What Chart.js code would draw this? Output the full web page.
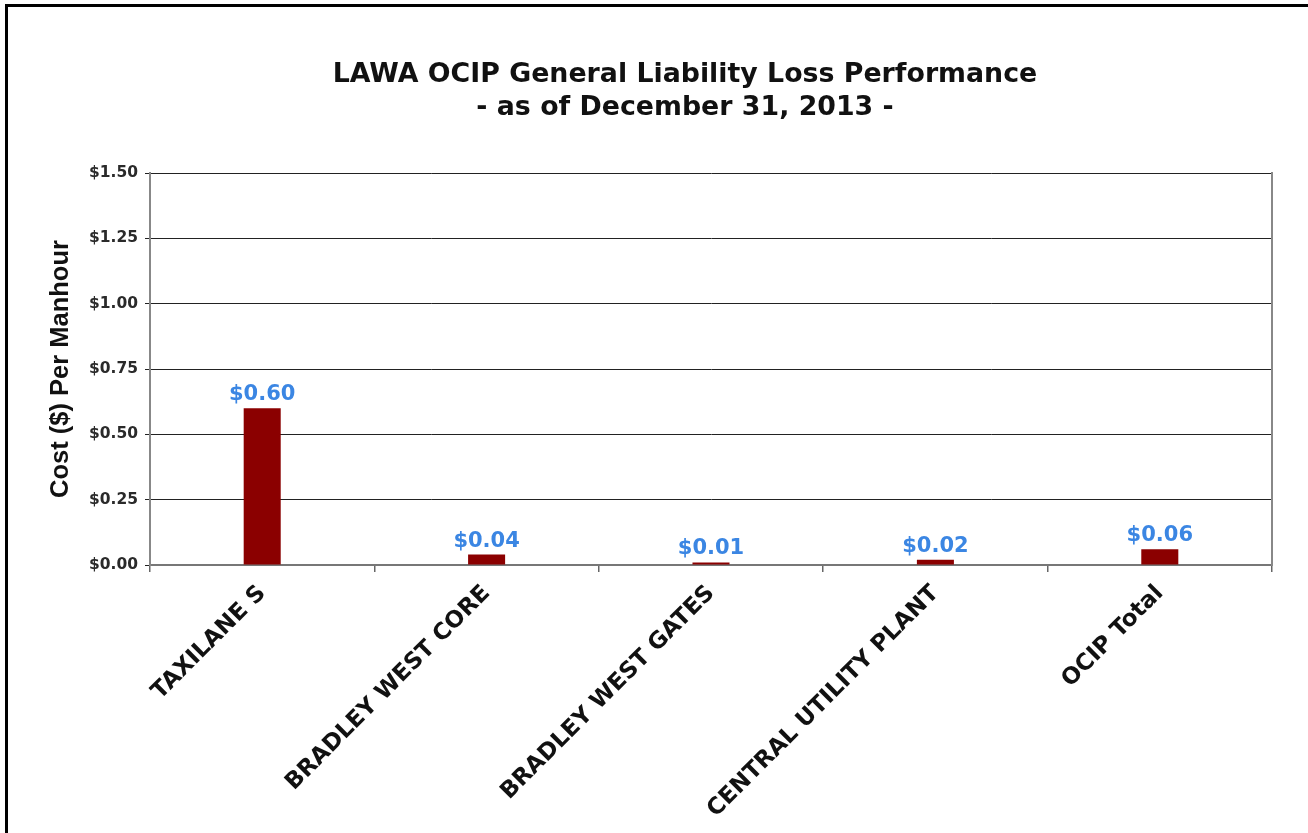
<!DOCTYPE html>
<html><head><meta charset="utf-8">
<script src="https://cdn.jsdelivr.net/npm/chart.js@4.4.1/dist/chart.umd.min.js"></script>
<style>
html,body{margin:0;padding:0;background:#fff;overflow:hidden;width:1308px;height:833px;}
#wrap{position:absolute;left:31px;top:0;width:1308px;height:833px;}
#frame{position:absolute;left:5px;top:4px;width:1320px;height:840px;border-left:3px solid #000;border-top:3px solid #000;pointer-events:none;}
</style></head><body>
<div id="wrap"><canvas id="c" width="1308" height="833"></canvas></div>
<div id="frame"></div>
<script>
const categories = ['TAXILANE S', 'BRADLEY WEST CORE', 'BRADLEY WEST GATES', 'CENTRAL UTILITY PLANT', 'OCIP Total'];
const costPerManhour = [0.60, 0.04, 0.01, 0.02, 0.06];
const titleLines = ['LAWA OCIP General Liability Loss Performance', '- as of December 31, 2013 -'];
const yAxisTitle = 'Cost ($) Per Manhour';
const yMin = 0, yMax = 1.5, yStep = 0.25;

const money = v => '$' + Number(v).toFixed(2);

const valueLabels = {
  id: 'valueLabels',
  afterDatasetsDraw(chart) {
    const ctx = chart.ctx;
    const meta = chart.getDatasetMeta(0);
    const vals = chart.data.datasets[0].data;
    ctx.save();
    ctx.font = 'bold 21px "DejaVu Sans"';
    ctx.fillStyle = '#3b86e3';
    ctx.textAlign = 'center';
    ctx.textBaseline = 'alphabetic';
    meta.data.forEach((bar, i) => {
      ctx.fillText(money(vals[i]), bar.x, bar.y - 8);
    });
    ctx.restore();
  }
};

new Chart(document.getElementById('c'), {
  type: 'bar',
  data: {
    labels: categories,
    datasets: [{
      data: costPerManhour,
      backgroundColor: '#8b0000',
      borderWidth: 0,
      barPercentage: 0.165,
      categoryPercentage: 1
    }]
  },
  options: {
    responsive: false,
    animation: false,
    devicePixelRatio: 1,
    layout: { padding: 0 },
    plugins: {
      legend: { display: false },
      tooltip: { enabled: false },
      title: {
        display: true,
        text: titleLines,
        color: '#111',
        font: { family: '"DejaVu Sans"', size: 26.8, weight: 'bold', lineHeight: 33 / 26.8 },
        padding: { top: 58.5, bottom: 48.5 }
      }
    },
    scales: {
      x: {
        grid: { offset: true, drawOnChartArea: false, drawTicks: true, tickLength: 7, color: '#666', lineWidth: 1.5 },
        border: { color: '#777', width: 2 },
        ticks: {
          autoSkip: false, minRotation: 45, maxRotation: 45, padding: 8,
          color: '#111',
          font: { family: '"DejaVu Sans"', size: 23, weight: 'bold' }
        },
        afterFit(s) { s.height = 268; }
      },
      y: {
        min: yMin, max: yMax,
        grid: { color: '#222', lineWidth: 1, tickLength: 5, drawTicks: true },
        border: { color: '#888', width: 2 },
        ticks: {
          stepSize: yStep, padding: 7, color: '#2a2a2a',
          font: { family: '"DejaVu Sans"', size: 15.5, weight: 'bold' },
          callback: v => money(v)
        },
        title: {
          display: true, text: yAxisTitle, color: '#111',
          font: { family: '"Liberation Sans"', size: 25.5, weight: 'bold' },
          padding: { top: 15, bottom: 0 }
        },
        afterFit(s) { s.width = 119; }
      },
      yRight: {
        position: 'right',
        min: 0, max: 1,
        grid: { drawOnChartArea: false, drawTicks: false },
        border: { color: '#888', width: 2 },
        ticks: { display: false },
        afterFit(s) { s.width = 67; }
      }
    }
  },
  plugins: [valueLabels]
});
</script>
</body></html>
